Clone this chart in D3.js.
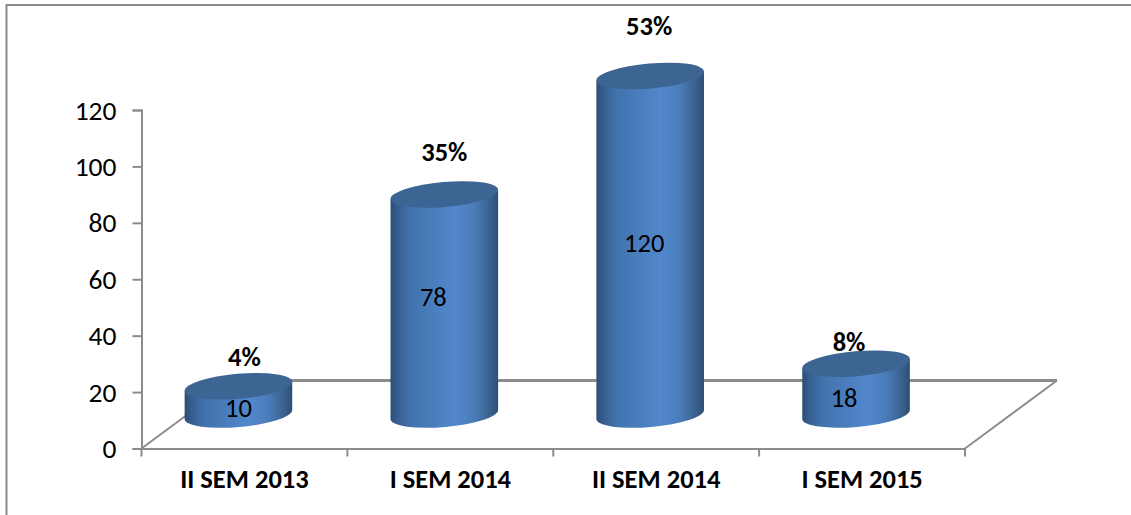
<!DOCTYPE html>
<html><head><meta charset="utf-8">
<script src="https://cdn.jsdelivr.net/npm/d3@7/dist/d3.min.js"></script>
<style>html,body{margin:0;padding:0;background:#fff}svg{display:block}text{font-family:Carlito,Calibri,"Open Sans","Noto Sans",sans-serif}</style>
</head><body><div id="c"></div>
<script>
const categories = ["II SEM 2013","I SEM 2014","II SEM 2014","I SEM 2015"];
const values = [10,78,120,18];
const percentLabels = ["4%","35%","53%","8%"];
const yTicks = [0,20,40,60,80,100,120];

const W=1131,H=515;
const svg=d3.select("#c").append("svg").attr("width",W).attr("height",H);
const defs=svg.append("defs");
const grad=defs.append("linearGradient").attr("id","body").attr("x1",0).attr("x2",1).attr("y1",0).attr("y2",0);
[[0,"#2d4d76"],[0.06,"#365d8e"],[0.18,"#4172ac"],[0.35,"#477bb9"],[0.6,"#5288cc"],[0.78,"#4a7cb9"],[0.92,"#3a628f"],[1,"#2e4e74"]]
 .forEach(d=>grad.append("stop").attr("offset",d[0]).attr("stop-color",d[1]));

// frame
const g="#8c8c8c";
svg.append("path").attr("d",`M6.5,515V5H${W}`).attr("fill","none").attr("stroke",g).attr("stroke-width",2);

const x=d3.scaleBand().domain(categories).range([141.5,965]);
const y=d3.scaleLinear().domain([0,120]).range([448.5,110]);
const depthX=92, depthY=68;

// floor
svg.append("path").attr("d",`M${x.range()[0]},${y(0)}L${x.range()[0]+depthX},${y(0)-depthY}`).attr("fill","none").attr("stroke",g).attr("stroke-width",2);
svg.append("path").attr("d",`M${x.range()[1]+depthX},${y(0)-depthY}L${x.range()[1]},${y(0)}`).attr("fill","none").attr("stroke",g).attr("stroke-width",2);
svg.append("line").attr("x1",x.range()[0]+depthX).attr("x2",x.range()[1]+depthX).attr("y1",y(0)-depthY).attr("y2",y(0)-depthY).attr("stroke",g).attr("stroke-width",3);

// axes
const ya=svg.append("g").attr("transform",`translate(${x.range()[0]},0)`).call(d3.axisLeft(y).tickValues(yTicks).tickSize(9).tickPadding(16));
ya.selectAll("text").attr("font-size",27.5).attr("fill","#000").attr("dy","0.33em");
const xa=svg.append("g").attr("transform",`translate(0,${y(0)})`).call(d3.axisBottom(x).tickSize(0).tickPadding(21));
xa.selectAll("text").attr("font-size",26.5).attr("font-weight",700).attr("fill","#000");
const tks=[...categories.map(c=>x(c)),x.range()[1]];
xa.selectAll("line.t").data(tks).enter().append("line").attr("class","t").attr("x1",d=>d).attr("x2",d=>d).attr("y1",0).attr("y2",8).attr("stroke",g).attr("stroke-width",2);
[ya,xa].forEach(a=>{a.selectAll(".domain").attr("stroke",g).attr("stroke-width",2);a.selectAll(".tick line").attr("stroke",g).attr("stroke-width",2);});

// cylinders
const a=54,b=12.5,tilt=-5,baseY=y(0)-34;
const rad=tilt*Math.PI/180, dx=a*Math.cos(rad), dy=a*Math.sin(rad);
const cx=c=>x(c)+x.bandwidth()/2-6;
const h=v=>y(0)-y(v);
const valueDx=[0,-11,-6,-12], valueDy=[17,2,7,18];
const percentDx=[6,0,-1,-7], percentGap=[20,33,41,13];
const bars=svg.selectAll("g.bar").data(categories.map((c,i)=>({c,i,v:values[i],p:percentLabels[i]}))).enter().append("g").attr("class","bar");
bars.append("path").attr("fill","url(#body)").attr("d",d=>{
  const X=cx(d.c),T=baseY-h(d.v);
  return `M${X-dx},${T-dy}L${X-dx},${baseY-dy}A${a},${b} ${tilt} 0 0 ${X+dx},${baseY+dy}L${X+dx},${T+dy}Z`;
});
bars.append("ellipse").attr("fill","#3c6593").attr("rx",a).attr("ry",b)
 .attr("transform",d=>`translate(${cx(d.c)},${baseY-h(d.v)}) rotate(${tilt})`);
bars.append("text").attr("text-anchor","middle").attr("font-size",26.5).attr("fill","#000")
 .attr("x",d=>cx(d.c)+valueDx[d.i]).attr("y",d=>baseY-h(d.v)/2+valueDy[d.i]).text(d=>d.v);
bars.append("text").attr("text-anchor","middle").attr("font-size",26.5).attr("font-weight",700).attr("fill","#000")
 .attr("x",d=>cx(d.c)+percentDx[d.i]).attr("y",d=>baseY-h(d.v)-percentGap[d.i]).text(d=>d.p);
</script></body></html>
